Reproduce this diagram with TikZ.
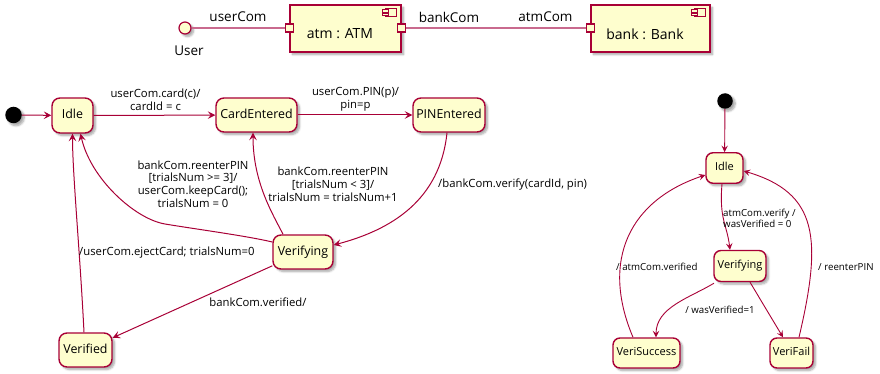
\documentclass[tikz,border=0pt]{standalone}
\usepackage{fontspec}
\setmainfont{Open Sans}
\usetikzlibrary{arrows.meta,shadows.blur}
\definecolor{umlred}{HTML}{A80036}
\definecolor{umlfill}{HTML}{FEFECE}
\definecolor{linkred}{HTML}{C96A8E}

% small "component" glyph in the top right corner of a component box
\newcommand\compglyph[1]{%
  \draw[draw=umlred,fill=umlfill,line width=1.1pt]
    ([shift={(-16,4)}]#1.north east) rectangle ([shift={(-5,12)}]#1.north east);
  \draw[draw=umlred,fill=umlfill,line width=1.1pt]
    ([shift={(-19,5.5)}]#1.north east) rectangle ([shift={(-13,7.8)}]#1.north east);
  \draw[draw=umlred,fill=umlfill,line width=1.1pt]
    ([shift={(-19,9.2)}]#1.north east) rectangle ([shift={(-13,11.5)}]#1.north east);
}

\begin{document}
\begin{tikzpicture}[x=1pt,y=-1pt,
  shadowed/.style={blur shadow={shadow xshift=2.5pt,shadow yshift=-2.5pt,
      shadow opacity=35,shadow blur steps=6,shadow blur radius=2pt}},
  statebox/.style={draw=umlred,fill=umlfill,line width=1.4pt,rounded corners=8pt,
      inner sep=0pt,text height=9pt,text depth=2.6pt,
      font=\fontsize{12.4}{14}\selectfont,shadowed},
  smallstate/.style={statebox,rounded corners=7pt,text height=8pt,text depth=2.3pt,
      font=\fontsize{11}{13}\selectfont},
  startdot/.style={circle,fill=black,inner sep=0pt,shadowed},
  compbox/.style={draw=umlred,fill=umlfill,line width=1.4pt,inner sep=0pt,
      font=\fontsize{14}{16}\selectfont,shadowed},
  port/.style={draw=umlred,fill=umlfill,line width=1.1pt,minimum size=8pt,inner sep=0pt},
  iface/.style={circle,draw=umlred,fill=umlfill,line width=1.2pt,minimum size=12pt,
      inner sep=0pt,shadowed},
  clabel/.style={inner sep=0pt,font=\fontsize{13.5}{16}\selectfont},
  elabel/.style={inner sep=0pt,align=center,font=\fontsize{11.3}{12.8}\selectfont},
  slabel/.style={inner sep=0pt,align=left,font=\fontsize{9.7}{11}\selectfont},
  link/.style={draw=linkred,line width=1.2pt},
  arr/.style={draw=umlred,line width=1pt,-{Stealth[length=7.5pt,width=7.5pt,inset=3pt]}},
  sarr/.style={draw=umlred,line width=0.9pt,-{Stealth[length=6.5pt,width=6.5pt,inset=2.6pt]}}
]
\useasboundingbox (0,0) rectangle (880,374);

% ---------- component view ----------
\node[iface] (user) at (185,28) {};
\node[clabel] (userlbl) at (189,51) {User};
\node[compbox,minimum width=111pt,minimum height=47pt] (atm) at (345.5,28.5) {};
\node[clabel,font=\fontsize{14}{16}\selectfont] (atmname) at (340,34) {atm : ATM};
\compglyph{atm}
\node[compbox,minimum width=119pt,minimum height=47pt] (bank) at (650.5,28.5) {};
\node[clabel,font=\fontsize{14}{16}\selectfont] (bankname) at (645,34) {bank : Bank};
\compglyph{bank}
\node[port] (atmL) at (atm.west |- 0,28) {};
\node[port] (atmR) at (atm.east |- 0,28) {};
\node[port] (bankL) at (bank.west |- 0,28) {};
\draw[link] (user) -- (atmL);
\draw[link] (atmR) -- (bankL);
\node[clabel] (usercom) at (238,17) {userCom};
\node[clabel] (bankcom) at (449,17) {bankCom};
\node[clabel] (atmcom) at (545.5,17) {atmCom};

% ---------- ATM state machine ----------
\node[startdot,minimum size=16.5pt] (start1) at (13.5,115) {};
\node[statebox,minimum width=41pt,minimum height=35pt] (idle) at (72.5,115.5) {Idle};
\node[statebox,minimum width=81pt,minimum height=34pt] (card) at (256.5,115) {CardEntered};
\node[statebox,minimum width=72pt,minimum height=34pt] (pin) at (449,115) {PINEntered};
\node[statebox,minimum width=60pt,minimum height=34pt] (verifying) at (303,252) {Verifying};
\node[statebox,minimum width=53pt,minimum height=34pt] (verified) at (85.5,350) {Verified};

\draw[arr] (start1) -- (idle);
\draw[arr] (idle) -- (card);
\draw[arr] (card) -- (pin);
\draw[arr] ([xshift=-2pt]pin.south) .. controls +(-7,68) and +(57,-15)
  .. ([yshift=7pt]verifying.east);
\draw[arr] ([yshift=10pt]verifying.west) .. controls +(-25,-6) and +(30,5)
  .. (165,224) .. controls +(-30,-5) and +(10,45) .. ([xshift=8pt]idle.south);
\draw[arr] ([xshift=-20pt]verifying.north) .. controls +(-10,-20) and +(0,50)
  .. ([xshift=-3.5pt]card.south);
\draw[arr] (verifying) -- (verified);
\draw[arr] ([xshift=-1.5pt]verified.north) .. controls +(-4,-80) and +(0,40) .. (idle.south);

\node[elabel] (l1) at (155.5,99.5) {userCom.card(c)/\\cardId = c};
\node[elabel] (l2) at (355.5,99.5) {userCom.PIN(p)/\\pin=p};
\node[elabel] (l3) at (193,184) {bankCom.reenterPIN\\{}[trialsNum >= 3]/\\userCom.keepCard();\\trialsNum = 0};
\node[elabel] (l4) at (333,184) {bankCom.reenterPIN\\{}[trialsNum < 3]/\\trialsNum = trialsNum+1};
\node[elabel,anchor=west] (l5) at (438,185) {/bankCom.verify(cardId, pin)};
\node[elabel,anchor=west] (l6) at (79,253) {/userCom.ejectCard; trialsNum=0};
\node[elabel] (l7) at (258,302) {bankCom.verified/};

% ---------- bank state machine ----------
\node[startdot,minimum size=15.5pt] (start2) at (725,101) {};
\node[smallstate,minimum width=37pt,minimum height=30.5pt] (idle2) at (724.5,168) {Idle};
\node[smallstate,minimum width=52pt,minimum height=31pt] (ver2) at (740,266) {Verifying};
\node[smallstate,minimum width=67pt,minimum height=30pt] (succ) at (646.5,353) {VeriSuccess};
\node[smallstate,minimum width=43pt,minimum height=30pt] (fail) at (791.5,353) {VeriFail};

\draw[sarr] (start2) -- (idle2);
\draw[sarr] ([xshift=-2.5pt]idle2.south) .. controls +(-3,35) and +(-3,-25)
  .. ([xshift=-10pt]ver2.north);
\draw[sarr] ([xshift=-26pt,yshift=-1pt]ver2.south) .. controls +(-25,15) and +(0,-30)
  .. ([xshift=9.5pt]succ.north);
\draw[sarr] ([xshift=10pt]ver2.south) -- ([xshift=-8.5pt]fail.north);
\draw[sarr] ([xshift=-13.5pt]succ.north) .. controls +(-33,-78) and +(-75,25)
  .. ([yshift=-7pt]idle2.west);
\draw[sarr] ([xshift=7.5pt]fail.north) .. controls +(23,-98) and +(75,22)
  .. ([yshift=-3pt]idle2.east);

\node[slabel,anchor=west] (m1) at (723,218.5) {atmCom.verify /\\wasVerified = 0};
\node[slabel] (m2) at (720,310) {/ wasVerified=1};
\node[slabel,anchor=west] (m3) at (616,267) {/ atmCom.verified};
\node[slabel,anchor=west] (m4) at (818,267) {/ reenterPIN};
\end{tikzpicture}
\end{document}
